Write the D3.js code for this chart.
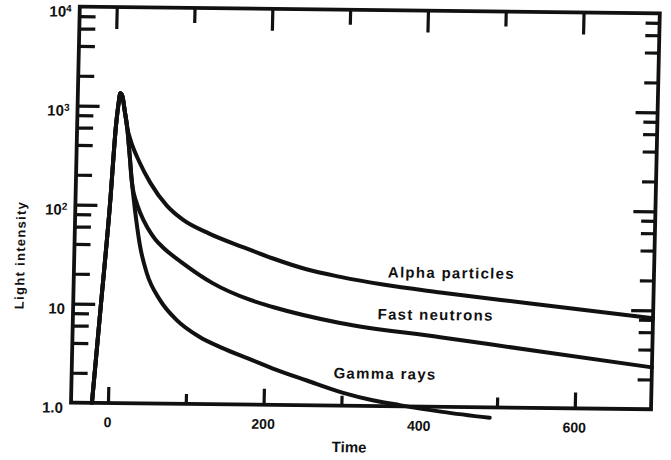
<!DOCTYPE html>
<html><head><meta charset="utf-8">
<script src="https://cdn.jsdelivr.net/npm/d3@7"></script>
<style>
html,body{margin:0;padding:0;background:#fff;}
svg{display:block;}
text{font-family:"Liberation Sans",Arial,sans-serif;font-weight:bold;fill:#111;}
</style></head><body>
<svg id="chart" width="671" height="460"></svg>
<script>
// ---- data ----
const timeDomain = [-47.5, 698];
const intensityDomain = [1, 10000];
const riseTime  = [-20.6, -11.8, -3.1, 2.5, 5, 7, 9.5, 13.5, 17];
const riseValue = [1, 10, 100, 650, 1050, 1350, 1280, 870, 600];
const alphaTime  = [21, 34, 48, 70, 91, 126, 169, 208, 250, 295, 350, 424, 540, 698];
const alphaValue = [468, 269, 170, 100, 72.4, 52.5, 38.9, 30.1, 23.8, 20, 16.9, 14.3, 11.35, 8.3];
const neutronTime  = [19.5, 21.5, 23.5, 26, 30, 36, 46, 56, 66, 92, 131, 180, 209, 296, 425, 554, 698];
const neutronValue = [400, 285, 195, 145, 112, 84, 59, 45.7, 38, 26.4, 16.7, 11.4, 9.75, 6.84, 5.05, 3.72, 2.65];
const gammaTime  = [19.5, 21.5, 24, 27, 31, 37, 46, 64, 86, 116, 145, 181, 211, 255, 302, 340, 375, 430, 491];
const gammaValue = [400, 285, 185, 120, 72, 38, 20.9, 11.1, 7.0, 4.76, 3.72, 2.88, 2.33, 1.78, 1.35, 1.146, 1.03, 0.89, 0.785];
const seriesNames = ["Alpha particles", "Fast neutrons", "Gamma rays"];
const labelTime  = [356, 344, 289];
const labelValue = [22.6, 8.5, 2.13];
const xTopTicks = [0, 100, 200, 300, 400, 500, 600];
const xBottomTicks = [0, 100, 200, 300, 500, 600];
const xLabelValues = [0, 200, 400, 600];
const xLabelTexts = ["0", "200", "400", "600"];
const yDecades = [1, 10, 100, 1000, 10000];
const yDecadeBase = ["1.0", "10", "10", "10", "10"];
const yDecadeExp  = ["", "", "2", "3", "4"];
const yMinorMultipliers = [2, 4, 6, 8];
const xTitle = "Time";
const yTitle = "Light intensity";

// ---- build ----
const ink = "#111";
const x = d3.scaleLinear().domain(timeDomain).range([71, 651]);
const y = d3.scaleLog().domain(intensityDomain).range([403, 7]);
const svg = d3.select("#chart");
// slight rotation/shear of the scanned original
const g = svg.append("g").attr("transform", "matrix(1,0.01157,-0.02222,1,8.955,-1.249)");

const minorY = [];
yDecades.slice(0, -1).forEach(d => yMinorMultipliers.forEach(m => minorY.push(d * m)));
const innerDecades = yDecades.slice(1, -1);

function styleAxis(sel) {
  sel.select(".domain").remove();
  sel.selectAll(".tick line").attr("stroke", ink).attr("stroke-width", 3.2);
  sel.selectAll(".tick text").remove();
}
const x0 = x(timeDomain[0]), x1 = x(timeDomain[1]);
const y0 = y(intensityDomain[0]), y1 = y(intensityDomain[1]);

// left ticks (inward)
g.append("g").attr("transform", `translate(${x0},0)`)
  .call(d3.axisLeft(y).tickValues(minorY).tickSize(-16)).call(styleAxis);
g.append("g").attr("transform", `translate(${x0},0)`)
  .call(d3.axisLeft(y).tickValues(innerDecades).tickSize(-22)).call(styleAxis);
// right ticks (inward)
g.append("g").attr("transform", `translate(${x1},0)`)
  .call(d3.axisRight(y).tickValues(minorY).tickSize(-14)).call(styleAxis);
g.append("g").attr("transform", `translate(${x1},0)`)
  .call(d3.axisRight(y).tickValues(innerDecades).tickSize(-22)).call(styleAxis);
// top ticks (inward)
g.append("g").attr("transform", `translate(0,${y1})`)
  .call(d3.axisTop(x).tickValues(xTopTicks.filter(d => d % 200 !== 0)).tickSize(-15)).call(styleAxis);
g.append("g").attr("transform", `translate(0,${y1})`)
  .call(d3.axisTop(x).tickValues(xTopTicks.filter(d => d % 200 === 0)).tickSize(-22)).call(styleAxis);
// bottom ticks (inward)
g.append("g").attr("transform", `translate(0,${y0})`)
  .call(d3.axisBottom(x).tickValues(xBottomTicks.filter(d => d % 200 !== 0)).tickSize(-10)).call(styleAxis);
g.append("g").attr("transform", `translate(0,${y0})`)
  .call(d3.axisBottom(x).tickValues(xBottomTicks.filter(d => d % 200 === 0)).tickSize(-16)).call(styleAxis);

// frame
g.append("rect").attr("x", x0).attr("y", y1).attr("width", x1 - x0).attr("height", y0 - y1)
  .attr("fill", "none").attr("stroke", ink).attr("stroke-width", 3.8);

// curves
const line = d3.line().x(d => x(d[0])).y(d => y(d[1])).curve(d3.curveMonotoneX);
const rise = riseTime.map((t, i) => [t, riseValue[i]]);
const series = [
  rise.concat(alphaTime.map((t, i) => [t, alphaValue[i]])),
  rise.concat(neutronTime.map((t, i) => [t, neutronValue[i]])),
  rise.concat(gammaTime.map((t, i) => [t, gammaValue[i]]))
];
g.selectAll("path.curve").data(series).join("path").attr("class", "curve")
  .attr("d", line).attr("fill", "none").attr("stroke", ink)
  .attr("stroke-width", 4).attr("stroke-linejoin", "round").attr("stroke-linecap", "round");

// curve labels
g.selectAll("text.clabel").data(seriesNames).join("text").attr("class", "clabel")
  .attr("x", (d, i) => x(labelTime[i])).attr("y", (d, i) => y(labelValue[i]))
  .attr("dy", "0.35em").attr("font-size", 15).attr("letter-spacing", 1.3).text(d => d);

// x tick labels
g.selectAll("text.xl").data(xLabelValues).join("text").attr("class", "xl")
  .attr("x", d => x(d)).attr("y", y0 + 24).attr("text-anchor", "middle")
  .attr("font-size", 14).text((d, i) => xLabelTexts[i]);

// y tick labels
const yl = g.selectAll("text.yl").data(yDecades).join("text").attr("class", "yl")
  .attr("x", x0 - 8).attr("y", d => y(d) + 5).attr("dy", "0.35em")
  .attr("text-anchor", "end").attr("font-size", 15);
yl.append("tspan").text((d, i) => yDecadeBase[i]);
yl.append("tspan").attr("dy", "-0.5em").attr("font-size", 10).text((d, i) => yDecadeExp[i]);

// titles
g.append("text").attr("x", 350).attr("y", 449.5).attr("text-anchor", "middle")
  .attr("font-size", 15).text(xTitle);
g.append("text").attr("transform", "translate(17,256) rotate(-90)").attr("text-anchor", "middle")
  .attr("dy", "0.35em").attr("font-size", 13).attr("letter-spacing", 1.3).text(yTitle);
</script>
</body></html>
